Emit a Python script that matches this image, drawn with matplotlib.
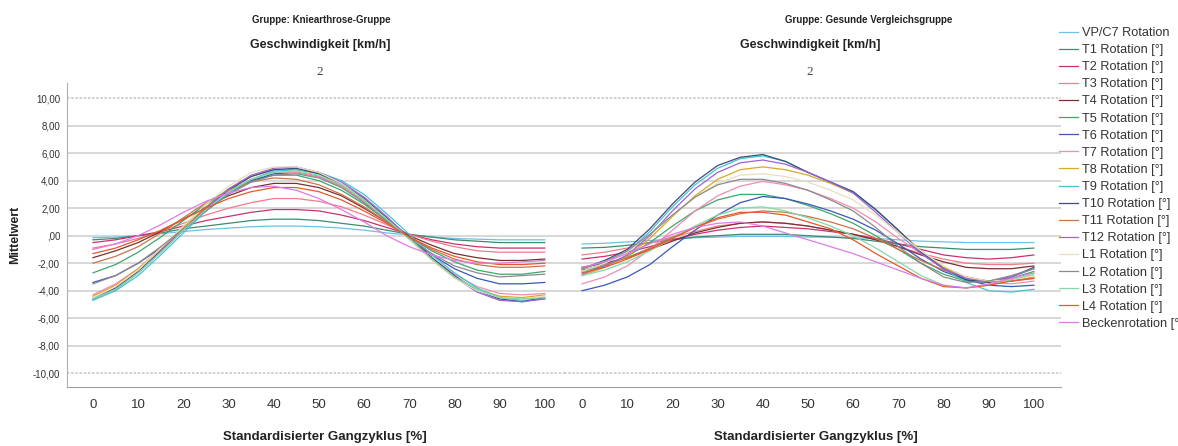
import matplotlib
matplotlib.use("Agg")
import matplotlib.pyplot as plt

plt.rcParams['font.family'] = ['Liberation Sans', 'DejaVu Sans']

# Gangzyklus in 5%-Schritten
gangzyklus = list(range(0, 101, 5))

namen = ["VP/C7 Rotation", "T1 Rotation [°]", "T2 Rotation [°]", "T3 Rotation [°]",
         "T4 Rotation [°]", "T5 Rotation [°]", "T6 Rotation [°]", "T7 Rotation [°]",
         "T8 Rotation [°]", "T9 Rotation [°]", "T10 Rotation [°]", "T11 Rotation [°]",
         "T12 Rotation [°]", "L1 Rotation [°]", "L2 Rotation [°]", "L3 Rotation [°]",
         "L4 Rotation [°]", "Beckenrotation [°]"]

farben = ['#6ec1e8', '#3d8c6e', '#c8336e', '#f47a8a', '#7a3030', '#3aa86b',
          '#3b57b8', '#f58bb0', '#d9a826', '#45c3d3', '#3f4b7a', '#c8764a',
          '#9b63d8', '#e7dfc0', '#8a8a8a', '#7fdca6', '#e8582c', '#e07be6']

# Kniearthrose-Gruppe
knie_vpc7 = [-0.15, -0.1, 0.0, 0.15, 0.3, 0.45, 0.55, 0.65, 0.7, 0.7, 0.65, 0.55, 0.4, 0.2, 0.05, -0.1, -0.2, -0.25, -0.3, -0.3, -0.3]
knie_t1 = [-0.3, -0.2, 0.0, 0.2, 0.5, 0.7, 0.9, 1.1, 1.2, 1.2, 1.1, 0.9, 0.7, 0.4, 0.1, -0.1, -0.3, -0.4, -0.5, -0.5, -0.5]
knie_t2 = [-0.5, -0.3, 0.0, 0.3, 0.7, 1.1, 1.4, 1.7, 1.9, 1.9, 1.8, 1.5, 1.1, 0.6, 0.1, -0.3, -0.6, -0.8, -0.9, -0.9, -0.9]
knie_t3 = [-0.9, -0.6, -0.2, 0.3, 0.9, 1.5, 2.0, 2.4, 2.7, 2.7, 2.5, 2.1, 1.5, 0.8, 0.1, -0.4, -0.8, -1.1, -1.2, -1.2, -1.2]
knie_t4 = [-1.6, -1.1, -0.5, 0.3, 1.2, 2.1, 2.9, 3.5, 3.8, 3.8, 3.5, 2.9, 2.0, 1.0, 0.0, -0.7, -1.3, -1.6, -1.8, -1.8, -1.7]
knie_t5 = [-2.7, -2.1, -1.2, -0.1, 1.1, 2.3, 3.3, 4.0, 4.4, 4.4, 4.0, 3.3, 2.3, 1.1, -0.1, -1.1, -1.9, -2.5, -2.8, -2.8, -2.6]
knie_t6 = [-3.4, -2.9, -2.0, -0.9, 0.4, 1.8, 3.1, 4.0, 4.5, 4.6, 4.3, 3.6, 2.5, 1.2, -0.2, -1.4, -2.4, -3.1, -3.5, -3.5, -3.4]
knie_t7 = [-4.3, -3.5, -2.4, -1.0, 0.5, 2.0, 3.2, 4.1, 4.6, 4.6, 4.3, 3.6, 2.5, 1.2, -0.2, -1.6, -2.8, -3.7, -4.2, -4.3, -4.2]
knie_t8 = [-4.4, -3.6, -2.4, -0.9, 0.6, 2.1, 3.4, 4.3, 4.8, 4.8, 4.5, 3.7, 2.6, 1.2, -0.2, -1.7, -3.0, -3.9, -4.4, -4.5, -4.3]
knie_t9 = [-4.7, -4.0, -2.9, -1.4, 0.2, 1.8, 3.1, 4.1, 4.7, 4.8, 4.6, 4.0, 3.0, 1.6, 0.1, -1.4, -2.7, -3.8, -4.5, -4.7, -4.6]
knie_t10 = [-4.6, -3.8, -2.6, -1.1, 0.4, 2.0, 3.3, 4.3, 4.8, 4.9, 4.5, 3.8, 2.7, 1.3, -0.1, -1.6, -2.9, -4.0, -4.6, -4.8, -4.5]
knie_t11 = [-2.0, -1.5, -0.8, 0.2, 1.3, 2.4, 3.3, 3.9, 4.2, 4.1, 3.7, 3.0, 2.1, 1.0, -0.1, -1.0, -1.7, -2.1, -2.3, -2.3, -2.2]
knie_t12 = [-4.6, -3.9, -2.7, -1.2, 0.4, 2.0, 3.4, 4.4, 4.9, 5.0, 4.6, 3.9, 2.8, 1.4, -0.2, -1.7, -3.0, -4.1, -4.7, -4.8, -4.6]
knie_l1 = [-4.5, -3.7, -2.5, -0.9, 0.7, 2.3, 3.6, 4.6, 5.0, 5.0, 4.6, 3.8, 2.6, 1.2, -0.3, -1.8, -3.1, -4.0, -4.5, -4.6, -4.4]
knie_l2 = [-3.5, -2.9, -2.0, -0.8, 0.5, 1.8, 3.0, 3.9, 4.4, 4.5, 4.2, 3.5, 2.4, 1.1, -0.2, -1.3, -2.2, -2.7, -3.0, -2.9, -2.8]
knie_l3 = [-4.6, -3.9, -2.7, -1.2, 0.4, 1.9, 3.2, 4.1, 4.6, 4.7, 4.4, 3.7, 2.6, 1.2, -0.2, -1.7, -3.0, -3.9, -4.5, -4.6, -4.5]
knie_l4 = [-1.3, -0.9, -0.3, 0.4, 1.2, 2.0, 2.7, 3.2, 3.5, 3.5, 3.2, 2.6, 1.8, 0.9, -0.1, -0.9, -1.5, -1.9, -2.1, -2.1, -2.0]
knie_becken = [-1.0, -0.6, 0.0, 0.8, 1.7, 2.5, 3.1, 3.5, 3.6, 3.3, 2.7, 1.9, 1.0, 0.0, -0.8, -1.4, -1.8, -2.0, -2.0, -1.9, -1.8]

# Gesunde Vergleichsgruppe
ges_vpc7 = [-0.6, -0.55, -0.45, -0.35, -0.25, -0.15, -0.1, -0.05, -0.05, -0.05, -0.1, -0.1, -0.15, -0.2, -0.3, -0.4, -0.45, -0.5, -0.5, -0.5, -0.5]
ges_t1 = [-0.9, -0.85, -0.7, -0.5, -0.3, -0.1, 0.0, 0.1, 0.1, 0.1, 0.0, -0.1, -0.2, -0.4, -0.6, -0.8, -0.9, -1.0, -1.0, -1.0, -0.9]
ges_t2 = [-1.7, -1.5, -1.2, -0.8, -0.3, 0.1, 0.4, 0.6, 0.7, 0.6, 0.5, 0.3, 0.1, -0.2, -0.6, -1.0, -1.4, -1.6, -1.7, -1.6, -1.4]
ges_t3 = [-1.4, -1.2, -0.9, -0.5, -0.1, 0.3, 0.7, 0.9, 1.0, 0.9, 0.7, 0.4, 0.1, -0.3, -0.8, -1.3, -1.7, -2.0, -2.1, -2.1, -2.0]
ges_t4 = [-2.3, -2.0, -1.6, -1.0, -0.4, 0.2, 0.6, 0.9, 1.0, 0.9, 0.7, 0.4, 0.1, -0.3, -0.8, -1.4, -1.9, -2.3, -2.4, -2.4, -2.2]
ges_t5 = [-2.6, -2.2, -1.5, -0.5, 0.7, 1.8, 2.6, 3.0, 3.0, 2.7, 2.2, 1.6, 0.9, 0.0, -1.0, -2.0, -2.8, -3.3, -3.4, -3.1, -2.6]
ges_t6 = [-4.0, -3.6, -3.0, -2.1, -0.8, 0.4, 1.5, 2.4, 2.85, 2.7, 2.3, 1.8, 1.2, 0.4, -0.6, -1.7, -2.6, -3.2, -3.6, -3.7, -3.6]
ges_t7 = [-3.5, -3.0, -2.2, -1.0, 0.4, 1.8, 2.9, 3.6, 3.95, 3.7, 3.3, 2.7, 2.0, 1.0, -0.2, -1.3, -2.3, -3.0, -3.4, -3.5, -3.3]
ges_t8 = [-2.9, -2.3, -1.5, -0.2, 1.4, 2.9, 4.1, 4.8, 5.0, 4.8, 4.4, 3.8, 3.1, 1.9, 0.4, -1.1, -2.3, -3.1, -3.4, -3.3, -3.0]
ges_t9 = [-2.6, -2.0, -1.2, 0.3, 2.1, 3.7, 4.9, 5.6, 5.8, 5.4, 4.6, 3.9, 3.2, 1.9, 0.4, -1.2, -2.4, -3.4, -4.0, -4.1, -3.9]
ges_t10 = [-2.4, -1.8, -1.0, 0.5, 2.3, 3.9, 5.1, 5.7, 5.9, 5.4, 4.6, 3.9, 3.2, 1.9, 0.4, -1.2, -2.4, -3.2, -3.4, -3.0, -2.3]
ges_t11 = [-2.5, -2.1, -1.6, -0.9, -0.1, 0.6, 1.2, 1.6, 1.8, 1.7, 1.4, 1.0, 0.5, -0.2, -1.0, -1.8, -2.5, -3.0, -3.3, -3.3, -3.1]
ges_t12 = [-2.8, -2.2, -1.4, 0.0, 1.8, 3.4, 4.6, 5.3, 5.5, 5.2, 4.6, 3.9, 3.1, 1.7, 0.2, -1.3, -2.4, -3.1, -3.3, -3.0, -2.4]
ges_l1 = [-2.6, -2.0, -1.2, 0.1, 1.5, 2.8, 3.8, 4.4, 4.5, 4.3, 3.9, 3.3, 2.6, 1.5, 0.2, -1.1, -2.2, -3.0, -3.3, -3.2, -2.9]
ges_l2 = [-2.4, -1.9, -1.1, 0.1, 1.5, 2.8, 3.7, 4.1, 4.1, 3.8, 3.3, 2.6, 1.8, 0.6, -0.8, -2.0, -3.0, -3.4, -3.3, -2.9, -2.4]
ges_l3 = [-2.9, -2.5, -1.9, -1.1, -0.2, 0.7, 1.5, 2.0, 2.1, 1.8, 1.3, 0.7, 0.0, -0.9, -1.9, -2.9, -3.6, -3.8, -3.6, -3.2, -2.8]
ges_l4 = [-2.7, -2.3, -1.7, -1.0, -0.2, 0.6, 1.3, 1.7, 1.7, 1.5, 1.0, 0.5, -0.3, -1.3, -2.2, -3.1, -3.7, -3.8, -3.6, -3.3, -3.1]
ges_becken = [-2.3, -1.9, -1.3, -0.6, 0.1, 0.6, 0.9, 1.0, 0.7, 0.2, -0.3, -0.8, -1.3, -1.9, -2.5, -3.1, -3.6, -3.8, -3.5, -3.1, -2.7]

knie = [knie_vpc7, knie_t1, knie_t2, knie_t3, knie_t4, knie_t5, knie_t6, knie_t7, knie_t8,
        knie_t9, knie_t10, knie_t11, knie_t12, knie_l1, knie_l2, knie_l3, knie_l4, knie_becken]
gesund = [ges_vpc7, ges_t1, ges_t2, ges_t3, ges_t4, ges_t5, ges_t6, ges_t7, ges_t8,
          ges_t9, ges_t10, ges_t11, ges_t12, ges_l1, ges_l2, ges_l3, ges_l4, ges_becken]

y_ticks = [10, 8, 6, 4, 2, 0, -2, -4, -6, -8, -10]
y_labels = ["10,00", "8,00", "6,00", "4,00", "2,00", ",00", "-2,00", "-4,00", "-6,00", "-8,00", "-10,00"]
x_ticks = [0, 10, 20, 30, 40, 50, 60, 70, 80, 90, 100]

W, H = 1178, 446
fig = plt.figure(figsize=(W / 100, H / 100), dpi=100)

left, right, top, bottom = 67, 1061, 83, 387
mid = 564
ax1 = fig.add_axes([left / W, 1 - bottom / H, (mid - left) / W, (bottom - top) / H])
ax2 = fig.add_axes([mid / W, 1 - bottom / H, (right - mid) / W, (bottom - top) / H])

for ax, daten, xlim in [(ax1, knie, (-5.75, 104.25)), (ax2, gesund, (-4, 106))]:
    for yv in y_ticks:
        if abs(yv) == 10:
            ax.axhline(yv, color='#c8c8c8', lw=1.2, ls=(0, (1.5, 1.0)), zorder=0)
        else:
            ax.axhline(yv, color='#d4d4d4', lw=1.3, zorder=0)
    for werte, farbe in zip(daten, farben):
        ax.plot(gangzyklus, werte, color=farbe, lw=0.9)
    ax.set_xlim(*xlim)
    ax.set_ylim(-11, 11.1)
    ax.set_xticks(x_ticks)
    ax.set_xticklabels([str(v) for v in x_ticks], fontsize=9.5, color='#333333')
    ax.tick_params(axis='x', length=0, pad=9)
    for s in ['top', 'right']:
        ax.spines[s].set_visible(False)
    ax.spines['bottom'].set_color('#a0a0a0')
    ax.spines['left'].set_color('#b0b0b0')

ax1.set_yticks(y_ticks)
ax1.set_yticklabels(y_labels, fontsize=7, color='#333333')
ax1.tick_params(axis='y', length=0, pad=5)
ax2.spines['left'].set_visible(False)
ax2.set_yticks([])

fig.text(15 / W, 1 - 235 / H, "Mittelwert", fontsize=9, fontweight='bold', rotation=90,
         ha='center', va='center', color='#222222')

for cx, gruppe in [(321, "Gruppe: Kniearthrose-Gruppe"), (869, "Gruppe: Gesunde Vergleichsgruppe")]:
    fig.text(cx / W, 1 - 20 / H, gruppe, fontsize=7, fontweight='bold', ha='center', va='center', color='#222222')
for cx in [320, 810]:
    fig.text(cx / W, 1 - 45 / H, "Geschwindigkeit [km/h]", fontsize=9, fontweight='bold',
             ha='center', va='center', color='#222222')
    fig.text(cx / W, 1 - 72 / H, "2", fontsize=9.5, family='Liberation Serif',
             ha='center', va='center', color='#444444')
for cx in [325, 816]:
    fig.text(cx / W, 1 - 437 / H, "Standardisierter Gangzyklus [%]", fontsize=9.5,
             fontweight='bold', ha='center', va='center', color='#222222')

handles = ax1.get_lines()[-len(namen):]
fig.legend(handles, namen, loc='upper left', bbox_to_anchor=(1059 / W, 1 - 27 / H),
           frameon=False, fontsize=9.2, handlelength=1.5, handletextpad=0.3,
           labelspacing=0.4, borderaxespad=0, borderpad=0, labelcolor='#333333')

fig.savefig("out.png", dpi=100)
